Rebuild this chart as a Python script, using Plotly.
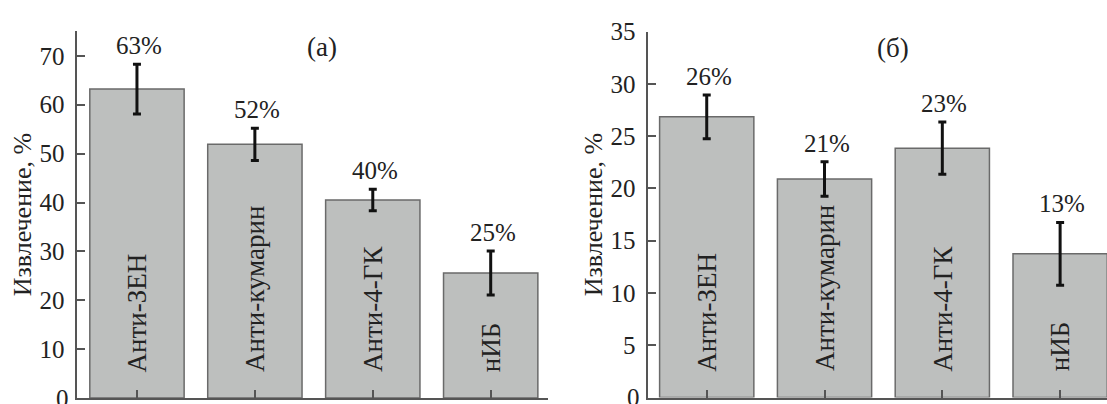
import plotly.graph_objects as go

W, H = 1107, 404

categories = ["Анти-ЗЕН", "Анти-кумарин", "Анти-4-ГК", "нИБ"]

values_a = [63.2, 51.9, 40.5, 25.6]
errors_a = [5.1, 3.3, 2.2, 4.5]
labels_a = ["63%", "52%", "40%", "25%"]

values_b = [26.85, 20.9, 23.85, 13.75]
errors_b = [2.1, 1.65, 2.5, 3.0]
labels_b = ["26%", "21%", "23%", "13%"]

y_title = "Извлечение, %"
panel_titles = ["(а)", "(б)"]
yticks_a = [0, 10, 20, 30, 40, 50, 60, 70]
yticks_b = [0, 5, 10, 15, 20, 25, 30, 35]

FONT = "Liberation Serif"
TXT = "#222222"
AX = "#555555"
BAR_FILL = "#bdbfbe"
BAR_LINE = "#6a6a6a"

xpos = list(range(len(categories)))

fig = go.Figure()

for vals, errs, xa, ya in [(values_a, errors_a, "x", "y"), (values_b, errors_b, "x2", "y2")]:
    fig.add_trace(go.Bar(
        x=xpos, y=vals, width=0.8, xaxis=xa, yaxis=ya,
        marker=dict(color=BAR_FILL, line=dict(color=BAR_LINE, width=1.5)),
        error_y=dict(type="data", array=errs, visible=True, color="#111111",
                     thickness=3, width=4),
        showlegend=False, hoverinfo="skip",
    ))

annotations = []
for vals, errs, labs, xr, yr in [(values_a, errors_a, labels_a, "x", "y"),
                                 (values_b, errors_b, labels_b, "x2", "y2")]:
    for i, (v, e, lab) in enumerate(zip(vals, errs, labs)):
        annotations.append(dict(
            x=i, y=v + e, xref=xr, yref=yr, text=lab, showarrow=False,
            yanchor="bottom", xanchor="center", yshift=3, xshift=2,
            font=dict(family=FONT, size=25, color=TXT)))
        annotations.append(dict(
            x=i, y=0, xref=xr, yref=yr, text=categories[i], showarrow=False,
            textangle=-90, yanchor="bottom", xanchor="center", yshift=24,
            font=dict(family=FONT, size=27, color=TXT)))

for yr, xr in [("y", "x"), ("y2", "x2")]:
    annotations.append(dict(
        x=0, y=0, xref=f"{xr} domain", yref=yr, text="0", showarrow=False,
        xanchor="right", yanchor="middle", xshift=-6,
        font=dict(family=FONT, size=25, color=TXT)))

for xc in [22, 593]:
    annotations.append(dict(
        x=xc / W, y=1 - 208 / H, xref="paper", yref="paper", text=y_title,
        showarrow=False, textangle=-90, xanchor="center", yanchor="middle",
        font=dict(family=FONT, size=26, color=TXT)))

for t, (xc, yc) in zip(panel_titles, [(321.7, 35), (893.3, 36)]):
    annotations.append(dict(
        x=xc / W, y=1 - yc / H, xref="paper", yref="paper", text=t,
        showarrow=False, xanchor="center", yanchor="middle",
        font=dict(family=FONT, size=27, color=TXT)))

common_x = dict(showgrid=False, zeroline=False, showline=True, linecolor=AX,
                linewidth=1.5, ticks="inside", ticklen=8, tickwidth=1.5,
                tickcolor=AX, tickvals=xpos, showticklabels=False, fixedrange=True)
common_y = dict(showgrid=False, zeroline=False, showline=True, linecolor=AX,
                linewidth=1.5, ticks="inside", ticklen=8, tickwidth=1.5,
                tickcolor=AX, ticklabelstandoff=6,
                tickfont=dict(family=FONT, size=25, color=TXT), fixedrange=True)

fig.update_layout(
    width=W, height=H,
    margin=dict(l=0, r=0, t=0, b=0),
    paper_bgcolor="white", plot_bgcolor="white",
    font=dict(family=FONT),
    bargap=0.2,
    xaxis=dict(domain=[77.3 / W, 548 / W], range=[-0.506, 3.486], anchor="y", **common_x),
    yaxis=dict(domain=[1 - 397.9 / H, 1 - 19 / H], range=[0, 75], tickvals=yticks_a,
               anchor="x", **common_y),
    xaxis2=dict(domain=[648.3 / W, 1.0], range=[-0.496, 3.398], anchor="y2", **common_x),
    yaxis2=dict(domain=[1 - 397.3 / H, 1 - 19.3 / H], range=[0, 35], tickvals=yticks_b,
                anchor="x2", **common_y),
    annotations=annotations,
)

fig.write_html(
    "out.html",
    config={"displayModeBar": False},
    post_script=(
        "var s=document.documentElement.style;s.margin='0';s.padding='0';s.overflow='hidden';"
        "var b=document.body.style;b.margin='0';b.padding='0';b.overflow='hidden';"
        "var g=document.getElementById('{plot_id}');"
        "g.style.position='fixed';g.style.top='0px';g.style.left='0px';"
    ),
)
